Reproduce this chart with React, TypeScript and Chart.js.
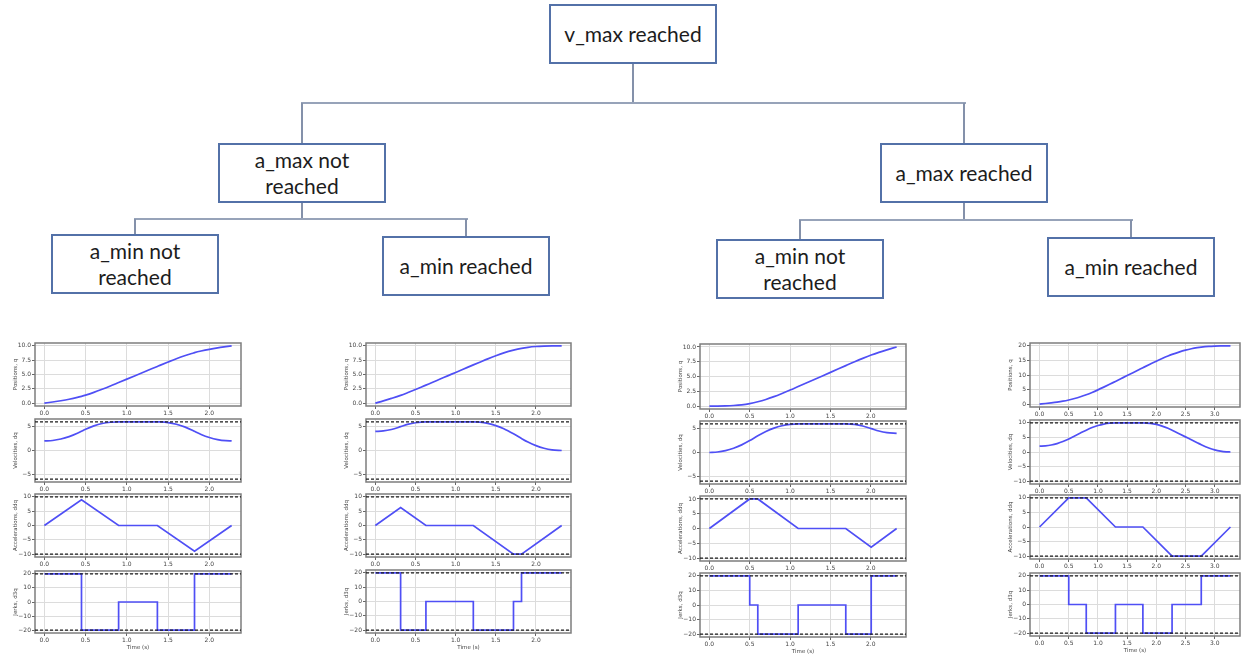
import React, { useEffect, useRef } from "react";
import { Chart, registerables } from "chart.js";
Chart.register(...registerables);

// ---------- Data ----------
// Column 1: v_max reached, a_max not reached, a_min not reached
const times1 = [0, 0.1, 0.2, 0.3, 0.4, 0.45, 0.5, 0.6, 0.7, 0.8, 0.9, 1.0, 1.1, 1.2, 1.3, 1.37, 1.4, 1.5, 1.6, 1.7, 1.8, 1.82, 1.9, 2.0, 2.1, 2.2, 2.27];
const pos1 = [0, 0.2, 0.42, 0.68, 1.0, 1.19, 1.4, 1.88, 2.42, 2.99, 3.59, 4.19, 4.79, 5.39, 5.99, 6.41, 6.59, 7.18, 7.75, 8.27, 8.72, 8.81, 9.1, 9.4, 9.65, 9.86, 10.0];
const vel1 = [2, 2.1, 2.4, 2.9, 3.6, 4.03, 4.45, 5.15, 5.65, 5.92, 6.0, 6.0, 6.0, 6.0, 6.0, 6.0, 5.99, 5.85, 5.5, 4.95, 4.2, 4.03, 3.37, 2.73, 2.29, 2.05, 2.0];
const accT1 = [0, 0.45, 0.9, 1.37, 1.82, 2.27];
const acc1 = [0, 9, 0, 0, -9, 0];
const jerkT1 = [0, 0.45, 0.9, 1.37, 1.82, 2.27];
const jerk1 = [20, -20, 0, -20, 20, 20];

// Column 2: v_max reached, a_max not reached, a_min reached
const times2 = [0, 0.1, 0.2, 0.315, 0.4, 0.5, 0.63, 0.7, 0.8, 0.9, 1.0, 1.1, 1.22, 1.3, 1.4, 1.5, 1.6, 1.72, 1.82, 1.9, 2.0, 2.1, 2.2, 2.32];
const pos2 = [0, 0.4, 0.83, 1.36, 1.81, 2.37, 3.15, 3.56, 4.16, 4.76, 5.36, 5.96, 6.68, 7.15, 7.73, 8.28, 8.77, 9.25, 9.57, 9.75, 9.89, 9.96, 9.99, 10.0];
const vel2 = [4, 4.1, 4.4, 4.99, 5.46, 5.82, 6.0, 6.0, 6.0, 6.0, 6.0, 6.0, 6.0, 5.94, 5.68, 5.22, 4.56, 3.5, 2.5, 1.76, 1.02, 0.48, 0.14, 0];
const accT2 = [0, 0.315, 0.63, 1.22, 1.72, 1.82, 2.32];
const acc2 = [0, 6.3, 0, 0, -10, -10, 0];
const jerkT2 = [0, 0.315, 0.63, 1.22, 1.72, 1.82, 2.32];
const jerk2 = [20, -20, 0, -20, 0, 20, 20];

// Column 3: v_max reached, a_max reached, a_min not reached
const times3 = [0, 0.1, 0.2, 0.3, 0.4, 0.5, 0.6, 0.7, 0.8, 0.9, 1.0, 1.1, 1.2, 1.3, 1.4, 1.5, 1.6, 1.69, 1.8, 1.9, 2.005, 2.1, 2.2, 2.32];
const pos3 = [0, 0.003, 0.027, 0.09, 0.21, 0.42, 0.72, 1.11, 1.59, 2.13, 2.7, 3.3, 3.9, 4.5, 5.1, 5.7, 6.3, 6.84, 7.5, 8.07, 8.63, 9.08, 9.51, 10.0];
const vel3 = [0, 0.1, 0.4, 0.9, 1.6, 2.5, 3.5, 4.4, 5.1, 5.6, 5.9, 6, 6, 6, 6, 6, 6, 6, 5.88, 5.56, 5.01, 4.5, 4.16, 4.0];
const accT3 = [0, 0.5, 0.6, 1.1, 1.69, 2.005, 2.32];
const acc3 = [0, 10, 10, 0, 0, -6.3, 0];
const jerkT3 = [0, 0.5, 0.6, 1.1, 1.69, 2.005, 2.32];
const jerk3 = [20, 0, -20, 0, -20, 20, 20];

// Column 4: v_max reached, a_max reached, a_min reached
const times4 = [0, 0.1, 0.2, 0.3, 0.4, 0.5, 0.6, 0.7, 0.8, 0.9, 1.0, 1.1, 1.2, 1.3, 1.4, 1.5, 1.6, 1.7, 1.77, 1.9, 2.0, 2.1, 2.2, 2.27, 2.4, 2.5, 2.6, 2.7, 2.77, 2.9, 3.0, 3.1, 3.2, 3.27];
const pos4 = [0, 0.2, 0.43, 0.69, 1.01, 1.42, 1.92, 2.52, 3.22, 4.01, 4.89, 5.83, 6.8, 7.8, 8.8, 9.8, 10.8, 11.8, 12.5, 13.79, 14.76, 15.68, 16.54, 17.08, 17.97, 18.54, 19.01, 19.38, 19.58, 19.83, 19.93, 19.98, 20.0, 20.0];
const vel4 = [2, 2.1, 2.4, 2.9, 3.6, 4.5, 5.5, 6.5, 7.5, 8.4, 9.1, 9.6, 9.9, 10, 10, 10, 10, 10, 10, 9.83, 9.47, 8.91, 8.15, 7.5, 6.2, 5.2, 4.2, 3.2, 2.5, 1.37, 0.73, 0.29, 0.05, 0];
const accT4 = [0, 0.5, 0.8, 1.3, 1.77, 2.27, 2.77, 3.27];
const acc4 = [0, 10, 10, 0, 0, -10, -10, 0];
const jerkT4 = [0, 0.5, 0.8, 1.3, 1.77, 2.27, 2.77, 3.27];
const jerk4 = [20, 0, -20, 0, -20, 0, 20, 20];

// Limits (dashed lines)
const vLimits = [6, 6, 6, 10];
const aLimits = [10, 10, 10, 10];
const jLimits = [20, 20, 20, 20];
const qFinal = [10, 10, 10, 20];

// Tick values
const xTicksShort = [0, 0.5, 1.0, 1.5, 2.0];
const xTicksLong = [0, 0.5, 1.0, 1.5, 2.0, 2.5, 3.0];
const posTicksSmall = [0, 2.5, 5, 7.5, 10];
const posTicksLarge = [0, 5, 10, 15, 20];
const velTicksSmall = [-5, 0, 5];
const velTicksLarge = [-10, -5, 0, 5, 10];
const accTicks = [-10, -5, 0, 5, 10];
const jerkTicks = [-20, -10, 0, 10, 20];

// Tree labels
const rootLabel = "v_max reached";
const midLabels = ["a_max not\nreached", "a_max reached"];
const leafLabels = ["a_min not\nreached", "a_min reached", "a_min not\nreached", "a_min reached"];

// ---------- Layout ----------
const colFrames = [
  { l: 35, w: 206, rows: [[343, 406], [419, 482], [494, 557], [571, 633]] },
  { l: 366, w: 205, rows: [[343, 406], [419, 482], [494, 557], [570, 633]] },
  { l: 700, w: 206, rows: [[344, 409], [421, 484], [496, 561], [573, 637]] },
  { l: 1030, w: 210, rows: [[343, 407], [420, 484], [495, 559], [573, 636]] },
];

const FONT = "DejaVu Sans";
const BLUE = "#4f4ff5";

function fmt(v: number, dec: number) {
  const s = Number(v).toFixed(dec);
  return s.replace("-", "\u2212");
}

const framePlugin = {
  id: "frame",
  beforeDatasetsDraw(chart: any) {
    const { ctx, chartArea: a } = chart;
    ctx.save();
    ctx.strokeStyle = "#7d7d7d";
    ctx.lineWidth = 1.5;
    ctx.strokeRect(a.left, a.top, a.right - a.left, a.bottom - a.top);
    ctx.restore();
  },
};

type SubProps = {
  l: number; t: number; w: number; h: number;
  xs: number[]; ys: number[]; T: number;
  xTicks: number[]; yTicks: number[]; yDec: number;
  yMin: number; yMax: number; yTitle: string; xTitle: boolean;
  stepped?: boolean; smooth?: boolean; limit?: number;
};

function SubPlot(p: SubProps) {
  const ref = useRef<HTMLCanvasElement | null>(null);
  const LW = 36, TP = 7, RP = 4;
  const xh = p.xTitle ? 21 : 13;
  const cw = p.w + LW + RP;
  const ch = p.h + TP + xh;
  useEffect(() => {
    if (!ref.current) return;
    const xMin = -0.05 * p.T, xMax = 1.05 * p.T;
    const datasets: any[] = [];
    if (p.limit !== undefined) {
      for (const s of [1, -1]) {
        datasets.push({
          data: [{ x: xMin, y: s * p.limit }, { x: xMax, y: s * p.limit }],
          borderColor: "#1a1a1a", borderWidth: 1.3, borderDash: [3, 2],
          pointRadius: 0, fill: false,
        });
      }
    }
    datasets.push({
      data: p.xs.map((x, i) => ({ x, y: p.ys[i] })),
      borderColor: BLUE, borderWidth: 1.7, pointRadius: 0, fill: false,
      stepped: p.stepped ? "before" : false,
      cubicInterpolationMode: p.smooth ? "monotone" : "default",
      tension: 0,
    });
    const tickFont = { family: FONT, size: 6 };
    const titleFont = { family: FONT, size: 5.5 };
    const chart = new Chart(ref.current, {
      type: "line",
      data: { datasets },
      plugins: [framePlugin],
      options: {
        animation: false,
        responsive: false,
        events: [],
        layout: { padding: { left: 0, top: TP, right: RP, bottom: 0 } },
        plugins: { legend: { display: false }, tooltip: { enabled: false } },
        scales: {
          x: {
            type: "linear", min: xMin, max: xMax,
            afterBuildTicks: (s: any) => { s.ticks = p.xTicks.map((v) => ({ value: v })); },
            afterFit: (s: any) => { s.height = xh; },
            grid: { color: "#dcdcdc", lineWidth: 1, tickLength: 3, tickColor: "#666" },
            border: { display: false },
            ticks: { font: tickFont, color: "#444", padding: 1, maxRotation: 0, autoSkip: false,
              callback: (v: any) => fmt(v, 1) },
            title: p.xTitle
              ? { display: true, text: "Time (s)", font: titleFont, color: "#444", padding: { top: 0, bottom: 3 } }
              : { display: false },
          },
          y: {
            type: "linear", min: p.yMin, max: p.yMax,
            afterBuildTicks: (s: any) => { s.ticks = p.yTicks.map((v) => ({ value: v })); },
            afterFit: (s: any) => { s.width = LW; },
            grid: { color: "#dcdcdc", lineWidth: 1, tickLength: 3, tickColor: "#666" },
            border: { display: false },
            ticks: { font: tickFont, color: "#444", padding: 1, autoSkip: false,
              callback: (v: any) => fmt(v, p.yDec) },
            title: { display: true, text: p.yTitle, font: titleFont, color: "#444", padding: { top: 13, bottom: 0 } },
          },
        },
      } as any,
    });
    return () => chart.destroy();
  }, []);
  return (
    <canvas
      ref={ref}
      width={cw}
      height={ch}
      style={{ position: "absolute", left: p.l - LW, top: p.t - TP, width: cw, height: ch }}
    />
  );
}

const colData = [
  { t: times1, q: pos1, v: vel1, aT: accT1, a: acc1, jT: jerkT1, j: jerk1 },
  { t: times2, q: pos2, v: vel2, aT: accT2, a: acc2, jT: jerkT2, j: jerk2 },
  { t: times3, q: pos3, v: vel3, aT: accT3, a: acc3, jT: jerkT3, j: jerk3 },
  { t: times4, q: pos4, v: vel4, aT: accT4, a: acc4, jT: jerkT4, j: jerk4 },
];

function Column({ idx }: { idx: number }) {
  const f = colFrames[idx];
  const d = colData[idx];
  const T = d.t[d.t.length - 1];
  const big = idx === 3;
  const xTicks = big ? xTicksLong : xTicksShort;
  const rowsSpec = [
    { xs: d.t, ys: d.q, yTicks: big ? posTicksLarge : posTicksSmall, yDec: big ? 0 : 1,
      yMin: -0.05 * qFinal[idx], yMax: 1.05 * qFinal[idx], yTitle: "Positions, q", smooth: true },
    { xs: d.t, ys: d.v, yTicks: big ? velTicksLarge : velTicksSmall, yDec: 0,
      yMin: -1.1 * vLimits[idx], yMax: 1.1 * vLimits[idx], yTitle: "Velocities, dq", smooth: true, limit: vLimits[idx] },
    { xs: d.aT, ys: d.a, yTicks: accTicks, yDec: 0,
      yMin: -1.1 * aLimits[idx], yMax: 1.1 * aLimits[idx], yTitle: "Accelerations, ddq", limit: aLimits[idx] },
    { xs: d.jT, ys: d.j, yTicks: jerkTicks, yDec: 0,
      yMin: -1.1 * jLimits[idx], yMax: 1.1 * jLimits[idx], yTitle: "Jerks, d3q", stepped: true, limit: jLimits[idx] },
  ];
  return (
    <>
      {rowsSpec.map((r, i) => (
        <SubPlot
          key={i}
          l={f.l} w={f.w} t={f.rows[i][0]} h={f.rows[i][1] - f.rows[i][0]}
          xs={r.xs} ys={r.ys} T={T} xTicks={xTicks} yTicks={r.yTicks} yDec={r.yDec}
          yMin={r.yMin} yMax={r.yMax} yTitle={r.yTitle} xTitle={i === 3}
          stepped={(r as any).stepped} smooth={(r as any).smooth} limit={(r as any).limit}
        />
      ))}
    </>
  );
}

// ---------- Tree ----------
const boxStyle = (l: number, t: number, w: number, h: number): React.CSSProperties => ({
  position: "absolute", left: l, top: t, width: w, height: h, boxSizing: "border-box",
  border: "2px solid #5371a8", display: "flex", alignItems: "center", justifyContent: "center",
  textAlign: "center", fontFamily: "Lato, 'Open Sans', sans-serif", fontSize: 21, lineHeight: "26px",
  color: "#1c1c1c", background: "#fff", whiteSpace: "pre-line",
});

function HLine({ x1, x2, y }: { x1: number; x2: number; y: number }) {
  return <div style={{ position: "absolute", left: x1, top: y - 1, width: x2 - x1 + 2, height: 2, background: "#97a3b9" }} />;
}
function VLine({ x, y1, y2 }: { x: number; y1: number; y2: number }) {
  return <div style={{ position: "absolute", left: x - 1, top: y1, width: 2, height: y2 - y1, background: "#8491aa" }} />;
}

function Tree() {
  return (
    <>
      <VLine x={633} y1={63} y2={104} />
      <HLine x1={301} x2={964} y={103} />
      <VLine x={302} y1={103} y2={144} />
      <VLine x={964} y1={103} y2={144} />
      <VLine x={302} y1={202} y2={219} />
      <HLine x1={134} x2={466} y={219} />
      <VLine x={135} y1={219} y2={235} />
      <VLine x={466} y1={219} y2={237} />
      <VLine x={964} y1={202} y2={221} />
      <HLine x1={799} x2={1131} y={220} />
      <VLine x={800} y1={220} y2={240} />
      <VLine x={1131} y1={220} y2={238} />

      <div style={boxStyle(549, 4, 168, 60)}>{rootLabel}</div>
      <div style={boxStyle(218, 143, 168, 60)}>{midLabels[0]}</div>
      <div style={boxStyle(880, 143, 168, 60)}>{midLabels[1]}</div>
      <div style={boxStyle(51, 234, 168, 60)}>{leafLabels[0]}</div>
      <div style={boxStyle(382, 236, 168, 60)}>{leafLabels[1]}</div>
      <div style={boxStyle(716, 239, 168, 60)}>{leafLabels[2]}</div>
      <div style={boxStyle(1047, 237, 168, 60)}>{leafLabels[3]}</div>
    </>
  );
}

export default function App() {
  return (
    <div style={{ position: "absolute", left: 0, top: 0, width: 1247, height: 660, background: "#fff", overflow: "hidden" }}>
      <Tree />
      {[0, 1, 2, 3].map((i) => <Column key={i} idx={i} />)}
    </div>
  );
}
